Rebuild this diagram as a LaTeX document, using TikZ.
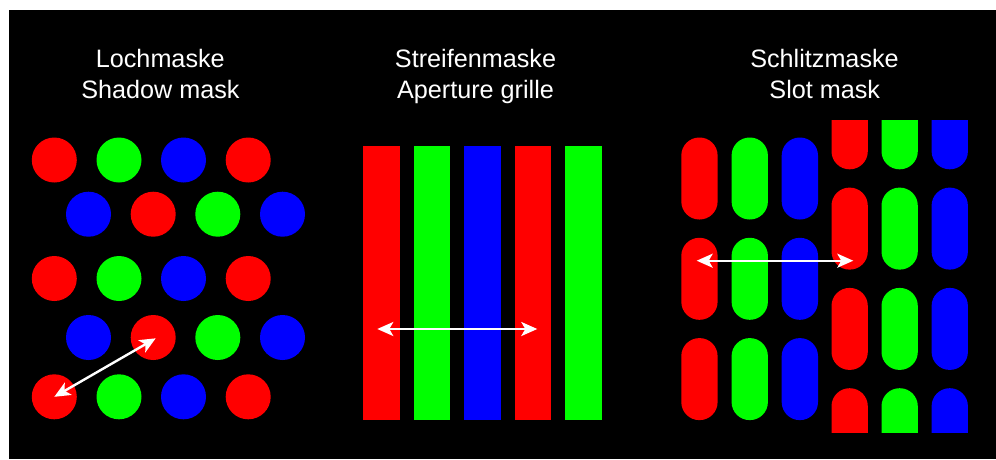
\documentclass[tikz,border=0pt]{standalone}
\usepackage{fontspec}
\setmainfont{Liberation Sans}
\usetikzlibrary{arrows.meta}
\definecolor{R}{HTML}{FF0000}
\definecolor{G}{HTML}{00FF00}
\definecolor{B}{HTML}{0000FF}
\begin{document}
\begin{tikzpicture}[x=1pt,y=-1pt,
  dot/.style={circle,inner sep=0pt,minimum size=45pt,draw=none},
  title/.style={text=white,font=\fontsize{25.2}{31}\selectfont,anchor=base,inner sep=0pt},
  dimarrow/.style={white,line width=2.4pt,{Stealth[length=16pt,width=14pt,inset=4pt]}-{Stealth[length=16pt,width=14pt,inset=4pt]}},
  slot/.style={rounded corners=18pt}]
\useasboundingbox (0,0) rectangle (996,459);
\fill[white] (0,0) rectangle (996,459);
\fill[black] (9,10) rectangle (996,459);
% titles
\node[title] (t1a) at (160.3,67.3) {Lochmaske};
\node[title] (t1b) at (160.5,98.3) {Shadow mask};
\node[title] (t2a) at (475.5,67.3) {Streifenmaske};
\node[title] (t2b) at (475.5,98.3) {Aperture grille};
\node[title] (t3a) at (824.5,67.3) {Schlitzmaske};
\node[title] (t3b) at (824.8,98.3) {Slot mask};
% shadow mask
\foreach \n/\x/\y/\c in {
  c11/54.3/160/R, c12/119/160/G, c13/183.5/160/B, c14/248.2/160/R,
  c21/88.5/214.2/B, c22/153.2/214.2/R, c23/217.8/214.2/G, c24/282.5/214.2/B,
  c31/54.3/278.5/R, c32/119/278.5/G, c33/183.5/278.5/B, c34/248.2/278.5/R,
  c41/88.5/337.5/B, c42/153.2/337.5/R, c43/217.8/337.5/G, c44/282.5/337.5/B,
  c51/54.3/396.8/R, c52/119/396.8/G, c53/183.5/396.8/B, c54/248.2/396.8/R}
  \node[dot,fill=\c] (\n) at (\x,\y) {};
\draw[dimarrow] (c51.center) -- ([shift={(2.5,0.8)}]c42.center);
% aperture grille
\foreach \x/\c in {363.3/R,413.7/G,464.1/B,514.6/R,565/G}
  \fill[\c] (\x,146) rectangle ++(36.7,274);
\coordinate (g1) at (377.3,329);
\coordinate (g2) at (537.3,329);
\draw[dimarrow] (g1) -- (g2);
% slot mask
\foreach \x/\c in {681.3/R,731.6/G,781.7/B}
  \foreach \y in {137.5,237.8,338.1}
    \fill[\c,slot] (\x,\y) rectangle ++(36.3,82);
\begin{scope}
\clip (825,120) rectangle (975,432.7);
\foreach \x/\c in {831.5/R,881.5/G,931.6/B}
  \foreach \y in {87.3,187.6,287.9,388.2}
    \fill[\c,slot] (\x,\y) rectangle ++(36.3,82);
\end{scope}
\coordinate (s1) at (696.7,260.7);
\coordinate (s2) at (853.3,260.7);
\draw[dimarrow] (s1) -- (s2);
\end{tikzpicture}
\end{document}
